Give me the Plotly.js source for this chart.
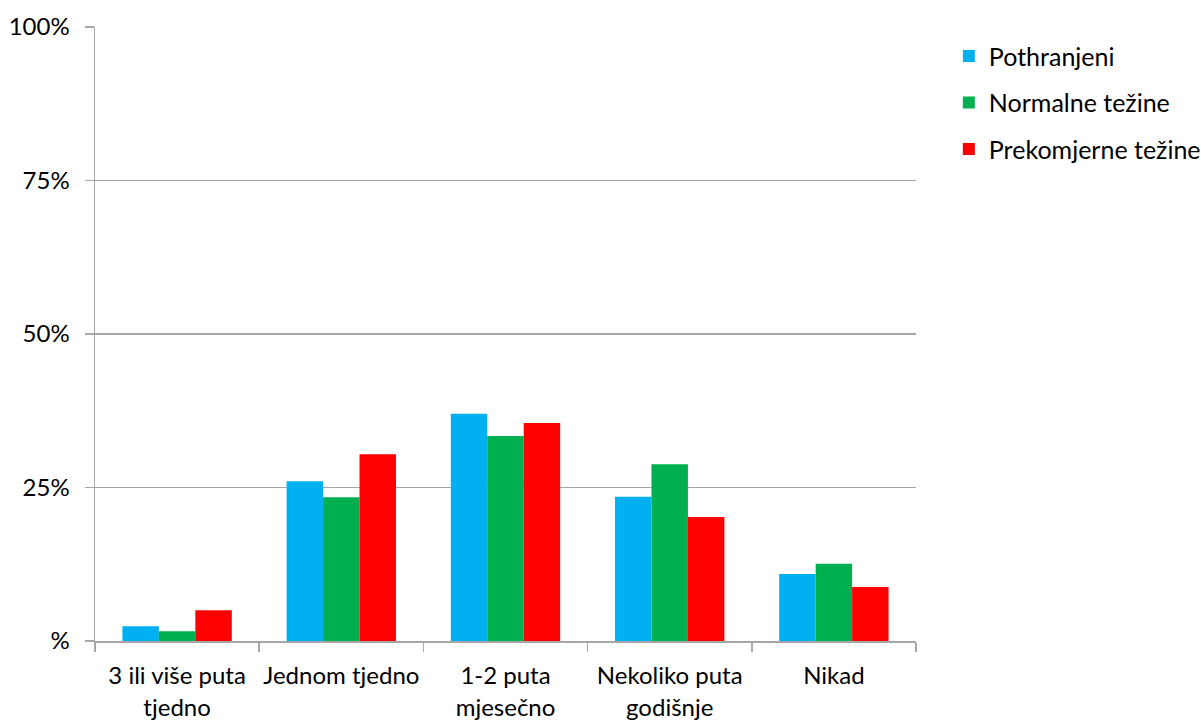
<!DOCTYPE html>
<html>
<head>
<meta charset="utf-8">
<script src="https://cdn.plot.ly/plotly-3.0.1.min.js"></script>
<style>html,body{margin:0;padding:0;background:#fff;}#chart{width:1201px;height:722px;}</style>
</head>
<body>
<div id="chart"></div>
<script>
const categories = ["3 ili više puta<br>tjedno", "Jednom tjedno", "1-2 puta<br>mjesečno", "Nekoliko puta<br>godišnje", "Nikad"];
const seriesNames = ["Pothranjeni", "Normalne težine", "Prekomjerne težine"];
const pothranjeni = [0.024, 0.260, 0.370, 0.235, 0.109];
const normalne = [0.016, 0.234, 0.334, 0.288, 0.126];
const prekomjerne = [0.050, 0.304, 0.355, 0.202, 0.088];
const colors = ["#00B0F0", "#00B050", "#FF0000"];
const yTickVals = [0, 0.25, 0.5, 0.75, 1];
const yTickText = ["%", "25%", "50%", "75%", "100%"];

const font = "Lato, 'Open Sans', sans-serif";
const values = [pothranjeni, normalne, prekomjerne];
const traces = values.map((v, i) => ({
  type: "bar",
  name: seriesNames[i],
  legendgroup: "g" + i,
  x: categories,
  y: v,
  marker: {color: colors[i], line: {width: 0}},
  hoverinfo: "none"
}));

const layout = {
  width: 1201, height: 722,
  margin: {l: 95, r: 285, t: 27, b: 81, pad: 0, autoexpand: false},
  paper_bgcolor: "#fff", plot_bgcolor: "#fff",
  barmode: "group", bargap: 0.334, bargroupgap: 0,
  font: {family: font, size: 24, color: "#000"},
  showlegend: true,
  legend: {x: 1.04, xanchor: "left", y: 0.99, yanchor: "top",
           font: {family: font, size: 25, color: "#000"},
           tracegroupgap: 11, itemwidth: 30, bgcolor: "rgba(0,0,0,0)"},
  xaxis: {
    type: "category", showline: true, linecolor: "#A6A6A6", linewidth: 1.5,
    ticks: "outside", tickson: "boundaries", ticklen: 9, tickcolor: "#A6A6A6", tickwidth: 1.5,
    showgrid: false, zeroline: false, fixedrange: true, ticklabelstandoff: 13,
    tickangle: 0, automargin: false,
    tickfont: {family: font, size: 24, color: "#000"}
  },
  yaxis: {
    range: [0, 1], tickvals: yTickVals, ticktext: yTickText,
    showline: true, linecolor: "#A6A6A6", linewidth: 1.5,
    ticks: "outside", ticklen: 9, tickcolor: "#A6A6A6", tickwidth: 1.5,
    showgrid: true, gridcolor: "#A6A6A6", gridwidth: 1.2, zeroline: false,
    ticklabelstandoff: 10, fixedrange: true, automargin: false,
    tickfont: {family: font, size: 24, color: "#000"}
  }
};

Plotly.newPlot("chart", traces, layout, {displayModeBar: false, staticPlot: true});
</script>
</body>
</html>
